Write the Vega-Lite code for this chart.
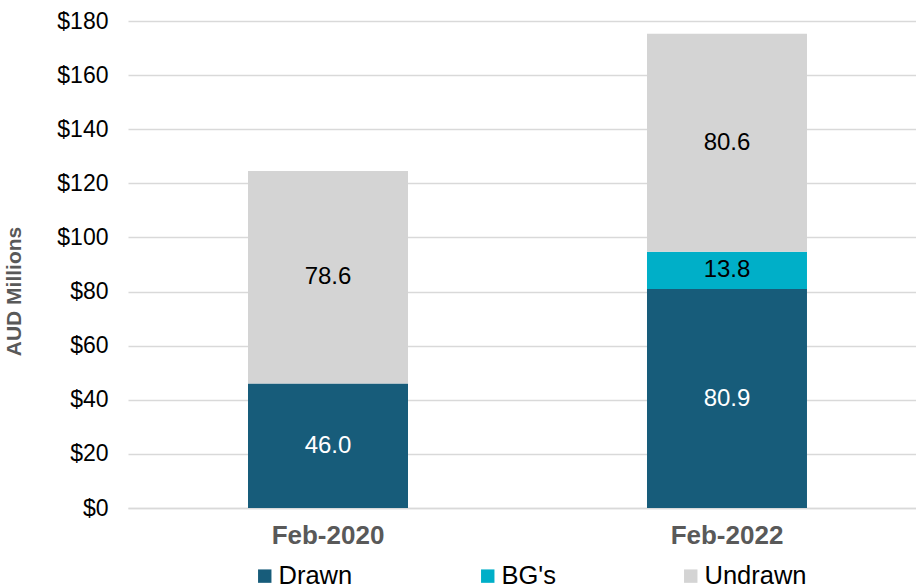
{
  "$schema": "https://vega.github.io/schema/vega-lite/v6.json",
  "autosize": "none",
  "width": 788,
  "height": 487,
  "padding": {"left": 128, "top": 21, "right": 0, "bottom": 80},
  "background": "white",
  "config": {
    "font": "Liberation Sans",
    "view": {"stroke": null}
  },
  "data": {
    "values": [
      {"period": "Feb-2020", "series": "Drawn", "order": 1, "value": 46.0},
      {"period": "Feb-2020", "series": "Undrawn", "order": 3, "value": 78.6},
      {"period": "Feb-2022", "series": "Drawn", "order": 1, "value": 80.9},
      {"period": "Feb-2022", "series": "BG's", "order": 2, "value": 13.8},
      {"period": "Feb-2022", "series": "Undrawn", "order": 3, "value": 80.6}
    ]
  },
  "transform": [
    {"stack": "value", "groupby": ["period"], "sort": [{"field": "order"}], "as": ["v0", "v1"]},
    {"calculate": "(datum.v0 + datum.v1) / 2", "as": "vmid"}
  ],
  "encoding": {
    "x": {
      "field": "period", "type": "nominal", "sort": ["Feb-2020", "Feb-2022"],
      "scale": {"paddingInner": 0.599, "paddingOuter": 0.287, "align": 0.524},
      "axis": {
        "title": null, "labelAngle": 0, "labelFont": "Liberation Sans", "labelFontSize": 26,
        "labelFontWeight": "bold", "labelColor": "#595959", "labelPadding": 14,
        "ticks": false, "domainColor": "#D9D9D9", "domainWidth": 1.5, "grid": false
      }
    }
  },
  "layer": [
    {
      "mark": {"type": "bar"},
      "encoding": {
        "y": {
          "field": "v0", "type": "quantitative",
          "scale": {"domain": [0, 180], "nice": false},
          "axis": {
            "title": "AUD Millions", "titleFont": "Liberation Sans", "titleFontSize": 21,
            "titleFontWeight": "bold", "titleColor": "#595959", "titlePadding": 32, "titleY": 270,
            "values": [0, 20, 40, 60, 80, 100, 120, 140, 160, 180],
            "labelExpr": "'$' + datum.value",
            "labelFontSize": 23, "labelColor": "#000000", "labelPadding": 20,
            "ticks": false, "domain": false, "gridColor": "#D9D9D9", "gridWidth": 1.5
          }
        },
        "y2": {"field": "v1"},
        "color": {
          "field": "series", "type": "nominal",
          "scale": {"domain": ["Drawn", "BG's", "Undrawn"], "range": ["#175C7A", "#00AFC8", "#D4D4D4"]},
          "legend": {
            "title": null, "orient": "none", "legendX": 124, "legendY": 542, "direction": "horizontal",
            "padding": 0,
            "symbolType": "square", "symbolSize": 180, "symbolStrokeWidth": 0, "symbolOpacity": 1,
            "labelFontSize": 25.5, "labelColor": "#000000", "labelOffset": 1, "columnPadding": 122
          }
        }
      }
    },
    {
      "mark": {"type": "text", "fontSize": 24, "baseline": "middle", "align": "center"},
      "encoding": {
        "y": {"field": "vmid", "type": "quantitative"},
        "text": {"field": "value", "type": "quantitative", "format": ".1f"},
        "color": {
          "condition": {"test": "datum.series === 'Drawn'", "value": "#FFFFFF"},
          "value": "#000000"
        }
      }
    }
  ]
}
